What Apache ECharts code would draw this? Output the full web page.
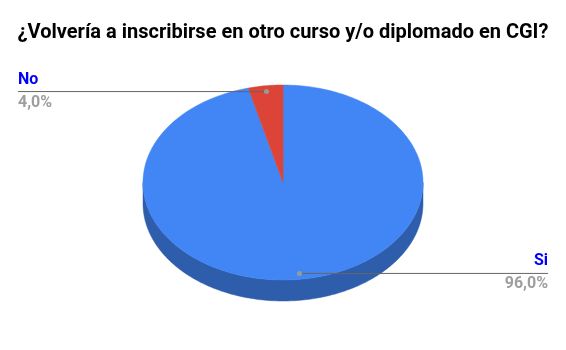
<!DOCTYPE html>
<html>
<head>
<meta charset="utf-8">
<script src="https://cdn.jsdelivr.net/npm/echarts@6/dist/echarts.min.js"></script>
<style>
html,body{margin:0;padding:0;background:#fff;}
#main{width:566px;height:350px;}
</style>
</head>
<body>
<div id="main"></div>
<script>
const titleText = '¿Volvería a inscribirse en otro curso y/o diplomado en CGI?';
const categories = ['Si', 'No'];
const values = [96, 4];

const topColors = ['#4285f4', '#db4437'];
const sideColors = ['#2e5dab', '#992f26'];

const total = values.reduce((a, b) => a + b, 0);
const starts = [];
let acc = 0;
values.forEach(v => { starts.push(acc / total * 360); acc += v; });
const ends = values.map((v, i) => starts[i] + v / total * 360);
const pctLabels = values.map(v => (v / total * 100).toFixed(1).replace('.', ',') + '%');

const G = { cx: 283, cy: 182.5, rx: 140, ry: 97.5, depth: 21, leftX: 18, rightX: 548 };
const rad = d => d * Math.PI / 180;
function pt(deg, f, dy) {
  return [G.cx + G.rx * f * Math.sin(rad(deg)), G.cy - G.ry * f * Math.cos(rad(deg)) + (dy || 0)];
}
function arc(a, b, f, dy) {
  const pts = [];
  const n = Math.max(2, Math.ceil(Math.abs(b - a)));
  for (let k = 0; k <= n; k++) pts.push(pt(a + (b - a) * k / n, f, dy));
  return pts;
}

const data = categories.map((c, i) => ({ name: c, value: values[i] }));

function renderSide(params, api) {
  const i = params.dataIndex;
  const a = Math.max(starts[i], 90), b = Math.min(ends[i], 270);
  if (b <= a) return null;
  const top = arc(a, b, 1, 0);
  const bottom = arc(b, a, 1, G.depth);
  return {
    type: 'polygon',
    shape: { points: top.concat(bottom) },
    style: { fill: sideColors[i], stroke: sideColors[i], lineWidth: 0.5 }
  };
}

function renderTop(params, api) {
  const i = params.dataIndex;
  const a = starts[i], b = ends[i];
  const pts = [[G.cx, G.cy]].concat(arc(a, b, 1, 0));
  const mid = (a + b) / 2;
  const dot = pt(mid, 0.94, 0);
  const onLeft = dot[0] < G.cx;
  const lineEnd = onLeft ? G.leftX : G.rightX;
  const align = onLeft ? 'left' : 'right';
  return {
    type: 'group',
    children: [
      { type: 'polygon', shape: { points: pts }, style: { fill: topColors[i], stroke: topColors[i], lineWidth: 0.5 } },
      { type: 'line', shape: { x1: dot[0], y1: dot[1], x2: lineEnd, y2: dot[1] }, style: { stroke: '#666666', lineWidth: 1 }, z2: 10 },
      { type: 'circle', shape: { cx: dot[0], cy: dot[1], r: 2.5 }, style: { fill: '#999999' }, z2: 11 },
      { type: 'text', x: lineEnd, y: dot[1] - 12, style: { text: categories[i], fill: '#0000ff', font: 'bold 16px Roboto', align: align, verticalAlign: 'middle' }, z2: 12 },
      { type: 'text', x: lineEnd, y: dot[1] + 11, style: { text: pctLabels[i], fill: '#9e9e9e', font: 'bold 16px Roboto', align: align, verticalAlign: 'middle' }, z2: 12 }
    ]
  };
}

const chart = echarts.init(document.getElementById('main'), null, { renderer: 'canvas' });
chart.setOption({
  animation: false,
  backgroundColor: '#ffffff',
  title: {
    text: titleText, left: 'center', top: 18,
    textStyle: { fontFamily: 'Roboto', fontSize: 20, fontWeight: 'bold', color: '#000000' }
  },
  series: [
    { type: 'custom', coordinateSystem: 'none', data: data, renderItem: renderSide, z: 1, silent: true },
    { type: 'custom', coordinateSystem: 'none', data: data, renderItem: renderTop, z: 2, silent: true }
  ]
});
</script>
</body>
</html>
